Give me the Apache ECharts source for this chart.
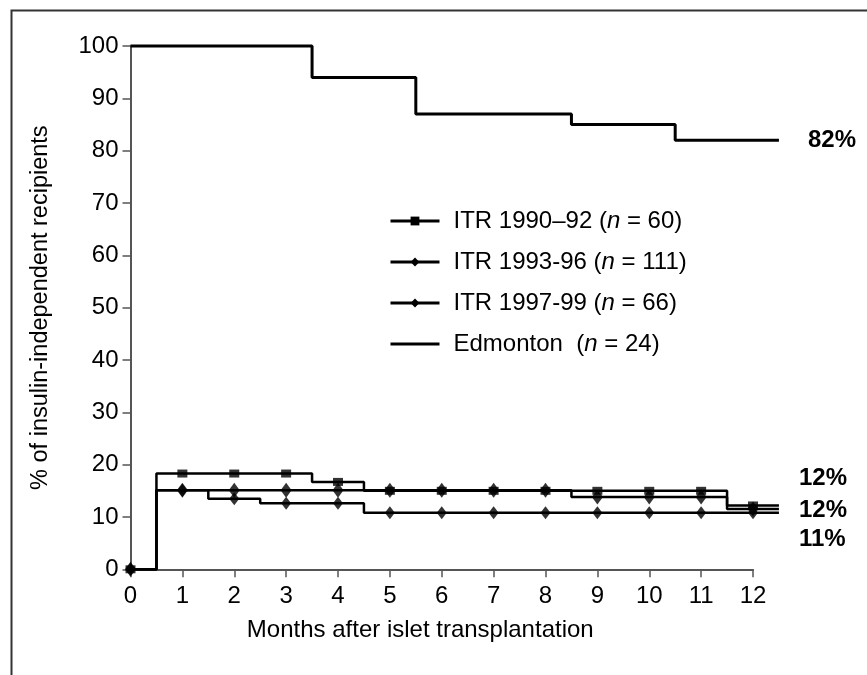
<!DOCTYPE html>
<html>
<head>
<meta charset="utf-8">
<script src="https://cdn.jsdelivr.net/npm/echarts@6/dist/echarts.min.js"></script>
<style>
html,body{margin:0;padding:0;background:#fff;}
#chart{width:867px;height:675px;}
</style>
</head>
<body>
<div id="chart"></div>
<script>
// ---- data ----
const months = [0,1,2,3,4,5,6,7,8,9,10,11,12];
const yTicks = [0,10,20,30,40,50,60,70,80,90,100];
const lastTime = 12.5;   // curves are drawn a little past the last tick

const seriesNames = [
  'ITR 1990\u201392 (n = 60)',
  'ITR 1993-96 (n = 111)',
  'ITR 1997-99 (n = 66)',
  'Edmonton  (n = 24)'
];

// step change times (months) and values (%) for each curve
const itr90Times = [0, 0.5, 3.5, 4.5, 11.5, 12.5];
const itr90Vals  = [0, 18.3, 16.7, 15.0, 12.2, 12.2];
const itr93Times = [0, 0.5, 1.5, 2.5, 4.5, 12.5];
const itr93Vals  = [0, 15.1, 13.5, 12.6, 10.8, 10.8];
const itr97Times = [0, 0.5, 8.5, 11.5, 12.5];
const itr97Vals  = [0, 15.1, 13.8, 11.5, 11.5];
const edmTimes   = [0, 3.5, 5.5, 8.5, 10.5, 12.5];
const edmVals    = [100, 94, 87, 85, 82, 82];

// ---- helpers ----
function pairs(t, v){ return t.map((x,i)=>[x, v[i]]); }
function valueAt(t, v, m){ let r = v[0]; for(let i=0;i<t.length;i++){ if(t[i] <= m) r = v[i]; } return r; }
function markers(t, v){ return months.map(m => [m, valueAt(t, v, m)]); }

const FONT = 'Liberation Sans, Arial, Helvetica, sans-serif';
const black = '#000';

// layout of the axis grid
const gLeft = 130.5, gRight = 114, gTop = 46, gBottom = 105.7;
const W = 867;
const axisWidth = W - gLeft - gRight;
const perMonth = axisWidth / months[months.length-1];
const dataRight = W - gLeft - perMonth * lastTime;

function stepLine(name, t, v, width, symbol, dist, endOffsetY, transparentSymbol){
  return {
    name: name, type: 'line', step: 'end', data: pairs(t, v),
    xAxisIndex: 1, yAxisIndex: 1,
    showSymbol: false, symbol: symbol, symbolSize: 9, clip: false,
    lineStyle: {color: black, width: width},
    itemStyle: {color: transparentSymbol ? 'rgba(0,0,0,0)' : black},
    z: 2,
    endLabel: {
      show: true, distance: dist, offset: [0, endOffsetY],
      formatter: p => Math.round(p.value[1]) + '%',
      fontFamily: FONT, fontSize: 24, fontWeight: 'bold', color: black
    }
  };
}
function markerSeries(name, t, v, symbol, size, z){
  return {
    name: name, type: 'scatter', data: markers(t, v), symbol: symbol, symbolSize: size,
    xAxisIndex: 1, yAxisIndex: 1,
    itemStyle: {color: black}, clip: false, z: z, silent: true
  };
}

const chart = echarts.init(document.getElementById('chart'), null, {renderer: 'canvas'});
chart.setOption({
  animation: false,
  backgroundColor: '#fff',
  textStyle: {fontFamily: FONT},
  graphic: [{
    type: 'polyline', silent: true,
    shape: {points: [[11.5, 675], [11.5, 10.5], [867, 10.5]]},
    style: {stroke: '#333', lineWidth: 2, fill: null}
  }],
  grid: [
    {left: gLeft, right: gRight, top: gTop, bottom: gBottom},
    {left: gLeft, right: dataRight, top: gTop, bottom: gBottom}
  ],
  legend: {
    data: seriesNames, orient: 'vertical', left: 389, top: 206, padding: 0,
    itemWidth: 49, itemHeight: 11, itemGap: 11,
    lineStyle: {width: 3},
    formatter: n => n.replace('(n ', '({i|n} '),
    textStyle: {
      fontFamily: FONT, fontSize: 24, color: black, lineHeight: 30, padding: [0,0,0,9],
      rich: {i: {fontStyle: 'italic', fontFamily: FONT, fontSize: 24, color: black, lineHeight: 30}}
    }
  },
  xAxis: [{
    gridIndex: 0,
    type: 'value', min: months[0], max: months[months.length-1], interval: 1,
    name: 'Months after islet transplantation', nameLocation: 'middle', nameGap: 49,
    nameTextStyle: {fontFamily: FONT, fontSize: 24, color: black, padding: [0, 43, 0, 0]},
    axisLine: {lineStyle: {color: '#555', width: 2}},
    axisTick: {length: 8, lineStyle: {color: '#555', width: 1.5}},
    axisLabel: {margin: 15, fontFamily: FONT, fontSize: 24, color: black},
    splitLine: {show: false}
  }, {
    gridIndex: 1, type: 'value', min: 0, max: lastTime, show: false, splitLine: {show: false}
  }],
  yAxis: [{
    gridIndex: 0,
    type: 'value', min: yTicks[0], max: yTicks[yTicks.length-1], interval: 10,
    name: '% of insulin-independent recipients', nameLocation: 'middle', nameGap: 78,
    nameTextStyle: {fontFamily: FONT, fontSize: 23.5, color: black},
    axisLine: {show: true, lineStyle: {color: '#555', width: 2}},
    axisTick: {show: true, length: 8, lineStyle: {color: '#555', width: 1.5}},
    axisLabel: {margin: 12, fontFamily: FONT, fontSize: 24, color: black},
    splitLine: {show: false}
  }, {
    gridIndex: 1, type: 'value', min: yTicks[0], max: yTicks[yTicks.length-1], show: false, splitLine: {show: false}
  }],
  series: [
    stepLine(seriesNames[0], itr90Times, itr90Vals, 2.5, 'rect', 20, -27, false),
    stepLine(seriesNames[1], itr93Times, itr93Vals, 2.5, 'diamond', 20, 27, false),
    stepLine(seriesNames[2], itr97Times, itr97Vals, 2.5, 'diamond', 20, 1, false),
    stepLine(seriesNames[3], edmTimes, edmVals, 3, 'circle', 29, 0, true),
    markerSeries('m90', itr90Times, itr90Vals, 'rect', [10, 8], 3),
    markerSeries('m93', itr93Times, itr93Vals, 'diamond', [10, 13], 4),
    markerSeries('m97', itr97Times, itr97Vals, 'diamond', [11, 15], 5)
  ]
});
</script>
</body>
</html>
